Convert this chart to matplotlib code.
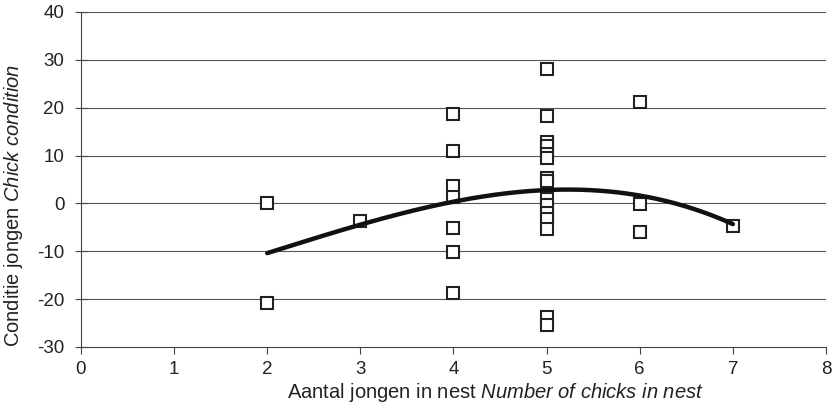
import numpy as np
import matplotlib
matplotlib.use('Agg')
import matplotlib.pyplot as plt

plt.rcParams['font.family'] = ['Liberation Sans', 'DejaVu Sans']
plt.rcParams['mathtext.fontset'] = 'custom'
plt.rcParams['mathtext.rm'] = 'Liberation Sans'
plt.rcParams['mathtext.it'] = 'Liberation Sans:italic'
plt.rcParams['axes.unicode_minus'] = False

# Chicks per nest and the condition score of the young
brood_size = [2, 2,
              3,
              4, 4, 4, 4, 4, 4, 4,
              5, 5, 5, 5, 5, 5, 5, 5, 5, 5, 5, 5, 5, 5, 5,
              6, 6, 6,
              7]
condition = [0.0, -20.9,
             -3.7,
             18.7, 10.9, 3.6, 1.3, -5.2, -10.2, -18.8,
             28.1, 18.2, 12.9, 12.0, 10.4, 9.4, 5.2, 4.6, 1.0, -0.4, -2.0, -3.3, -5.3, -23.8, -25.5,
             21.1, -0.1, -5.9,
             -4.7]

# trendline values at whole brood sizes
trend_x = [2, 3, 4, 5, 6, 7]
trend_y = [-10.4, -4.4, 0.2, 3.0, 1.5, -4.3]

x_ticks = list(range(0, 9))
y_ticks = list(range(-30, 41, 10))

fig = plt.figure(figsize=(8.33, 4.13), dpi=100)
ax = fig.add_axes([0.0972, 0.160, 0.8944, 0.811])

# horizontal gridlines
for y in y_ticks[1:]:
    ax.axhline(y, color='#555555', lw=0.8, zorder=0)

ax.plot(brood_size, condition, 's', ms=8, mfc='white', mec='#222222', mew=1.5, zorder=3)

# smooth polynomial trendline
coef = np.polyfit(trend_x, trend_y, 3)
xs = np.linspace(2, 7, 200)
ax.plot(xs, np.polyval(coef, xs), color='#111111', lw=3.2, zorder=4, solid_capstyle='round')

ax.set_xlim(0, 8)
ax.set_ylim(-30, 40)
ax.set_xticks(x_ticks)
ax.set_yticks(y_ticks)
for s in ['top', 'right']:
    ax.spines[s].set_visible(False)
for s in ['left', 'bottom']:
    ax.spines[s].set_color('#444444')
ax.tick_params(axis='x', direction='out', length=5, color='#444444', labelsize=13.5, pad=5,
               labelcolor='#222222')
ax.tick_params(axis='y', direction='inout', length=8, color='#444444', labelsize=13.5, pad=8,
               labelcolor='#222222')

# axis titles, Dutch with English in italics
fig.text(495 / 833, 1 - 392 / 413,
         'Aantal jongen in nest $\\it{Number\\ of\\ chicks\\ in\\ nest}$',
         fontsize=14.5, color='#222222', ha='center', va='center')
fig.text(14 / 833, 1 - 205 / 413,
         'Conditie jongen $\\it{Chick\\ condition}$',
         fontsize=14.5, color='#222222', ha='center', va='center', rotation=90)

fig.savefig('out.png', dpi=100)
